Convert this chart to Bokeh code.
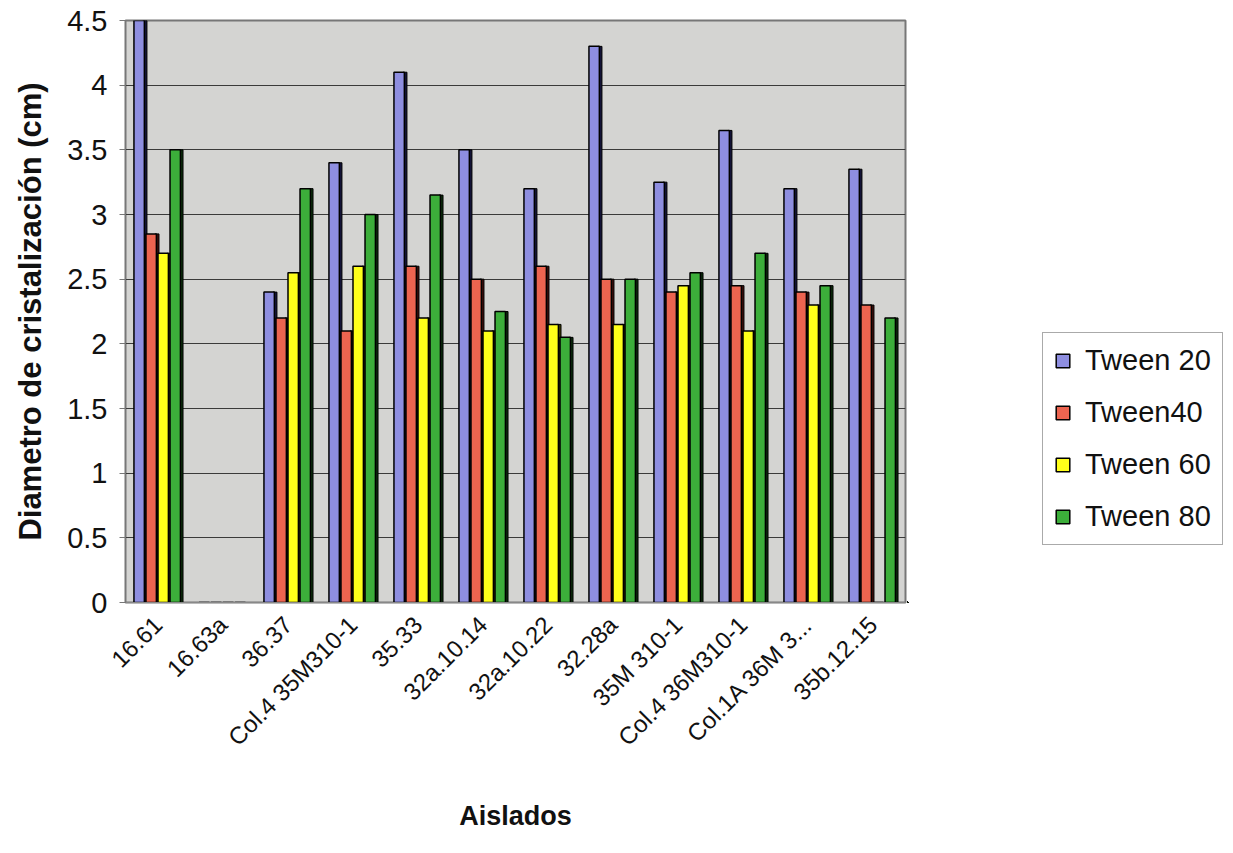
from bokeh.plotting import figure
from bokeh.models import FactorRange, Legend, LegendItem, ColumnDataSource, FixedTicker
from bokeh.layouts import row
from bokeh.transform import dodge
from bokeh.embed import file_html
from bokeh.resources import INLINE
from math import pi

categories = ["16.61", "16.63a", "36.37", "Col.4 35M310-1", "35.33", "32a.10.14",
              "32a.10.22", "32.28a", "35M 310-1", "Col.4 36M310-1", "Col.1A 36M 3...", "35b.12.15"]
tween20 = [4.5, 0, 2.4, 3.4, 4.1, 3.5, 3.2, 4.3, 3.25, 3.65, 3.2, 3.35]
tween40 = [2.85, 0, 2.2, 2.1, 2.6, 2.5, 2.6, 2.5, 2.4, 2.45, 2.4, 2.3]
tween60 = [2.7, 0, 2.55, 2.6, 2.2, 2.1, 2.15, 2.15, 2.45, 2.1, 2.3, 0]
tween80 = [3.5, 0, 3.2, 3.0, 3.15, 2.25, 2.05, 2.5, 2.55, 2.7, 2.45, 2.2]
series_names = ["Tween 20", "Tween40", "Tween 60", "Tween 80"]
y_ticks = [0, 0.5, 1, 1.5, 2, 2.5, 3, 3.5, 4, 4.5]

colors = ["#8e8ee0", "#ec6450", "#ffff1a", "#3cae3a"]
side_colors = ["#14143c", "#3c0e0a", "#3c3c00", "#0a2c0a"]
offsets = [-0.29, -0.105, 0.08, 0.265]

src = ColumnDataSource(dict(cat=categories, t20=tween20, t40=tween40, t60=tween60, t80=tween80))
keys = ["t20", "t40", "t60", "t80"]

H = 845
p = figure(x_range=FactorRange(*categories), y_range=(0, 4.5),
           width=907, height=H, output_backend="svg", toolbar_location=None,
           min_border_left=125, min_border_right=2, min_border_top=20, min_border_bottom=243)

p.background_fill_color = "#d4d4d2"
p.border_fill_color = "white"
p.outline_line_color = "#777777"
p.outline_line_width = 2

for i, k in enumerate(keys):
    # dark 3D side
    p.vbar(x=dodge("cat", offsets[i] + 0.09, range=p.x_range), top=k, width=0.06,
           source=src, fill_color=side_colors[i], line_color="black", line_width=1)
    p.vbar(x=dodge("cat", offsets[i], range=p.x_range), top=k, width=0.16,
           source=src, fill_color=colors[i], line_color="black", line_width=1.5)

p.xgrid.grid_line_color = None
p.ygrid.grid_line_color = "#3a3a3a"
p.ygrid.grid_line_width = 1

p.yaxis.ticker = FixedTicker(ticks=y_ticks)
p.yaxis.major_label_overrides = {0: "0", 1: "1", 2: "2", 3: "3", 4: "4"}
p.yaxis.axis_label = "Diametro de cristalización (cm)"
p.yaxis.axis_label_text_font = "Liberation Sans"
p.yaxis.axis_label_text_font_style = "bold"
p.yaxis.axis_label_text_font_size = "31px"
p.yaxis.axis_label_text_color = "#111111"
p.yaxis.axis_label_standoff = 16
p.yaxis.major_label_text_font = "Liberation Sans"
p.yaxis.major_label_text_font_size = "29px"
p.yaxis.major_label_text_color = "#111111"
p.yaxis.major_label_standoff = 12
p.yaxis.axis_line_color = "#777777"
p.yaxis.major_tick_line_color = "#777777"
p.yaxis.major_tick_out = 6
p.yaxis.major_tick_in = 0
p.yaxis.minor_tick_line_color = None

p.xaxis.axis_label = "Aislados"
p.xaxis.axis_label_text_font = "Liberation Sans"
p.xaxis.axis_label_text_font_style = "bold"
p.xaxis.axis_label_text_font_size = "27px"
p.xaxis.axis_label_text_color = "#111111"
p.xaxis.axis_label_standoff = 38
p.xaxis.major_label_orientation = pi / 4
p.xaxis.major_label_text_font = "Liberation Sans"
p.xaxis.major_label_text_font_size = "24px"
p.xaxis.major_label_text_color = "#111111"
p.xaxis.axis_line_color = "#888888"
p.xaxis.major_tick_line_color = None
p.xaxis.major_label_standoff = 12

# legend panel: a second figure; its bars lie far outside its visible ranges
lg = figure(x_range=FactorRange(*categories), y_range=(100, 101),
            width=318, height=H, output_backend="svg", toolbar_location=None,
            x_axis_location=None, y_axis_location=None,
            min_border_left=0, min_border_right=0, min_border_top=0, min_border_bottom=0)
lg.outline_line_color = None
lg.background_fill_color = "white"
lg.xgrid.grid_line_color = None
lg.ygrid.grid_line_color = None
items = []
for i, k in enumerate(keys):
    r = lg.vbar(x=dodge("cat", -100, range=lg.x_range), top=k, width=0.15, source=src,
                fill_color=colors[i], line_color="black", line_width=1.5)
    items.append(LegendItem(label=series_names[i], renderers=[r]))

legend = Legend(items=items, location=(135, 57))
legend.margin = 0
legend.label_text_font = "Liberation Sans"
legend.label_text_font_size = "29px"
legend.label_text_color = "#111111"
legend.glyph_width = 17
legend.glyph_height = 17
legend.spacing = 19
legend.padding = 11
legend.label_standoff = 14
legend.border_line_color = "#555555"
legend.border_line_width = 1
legend.background_fill_color = "white"
legend.background_fill_alpha = 1
lg.add_layout(legend, "center")

layout = row(p, lg)
open("out.html", "w").write(file_html(layout, INLINE))
